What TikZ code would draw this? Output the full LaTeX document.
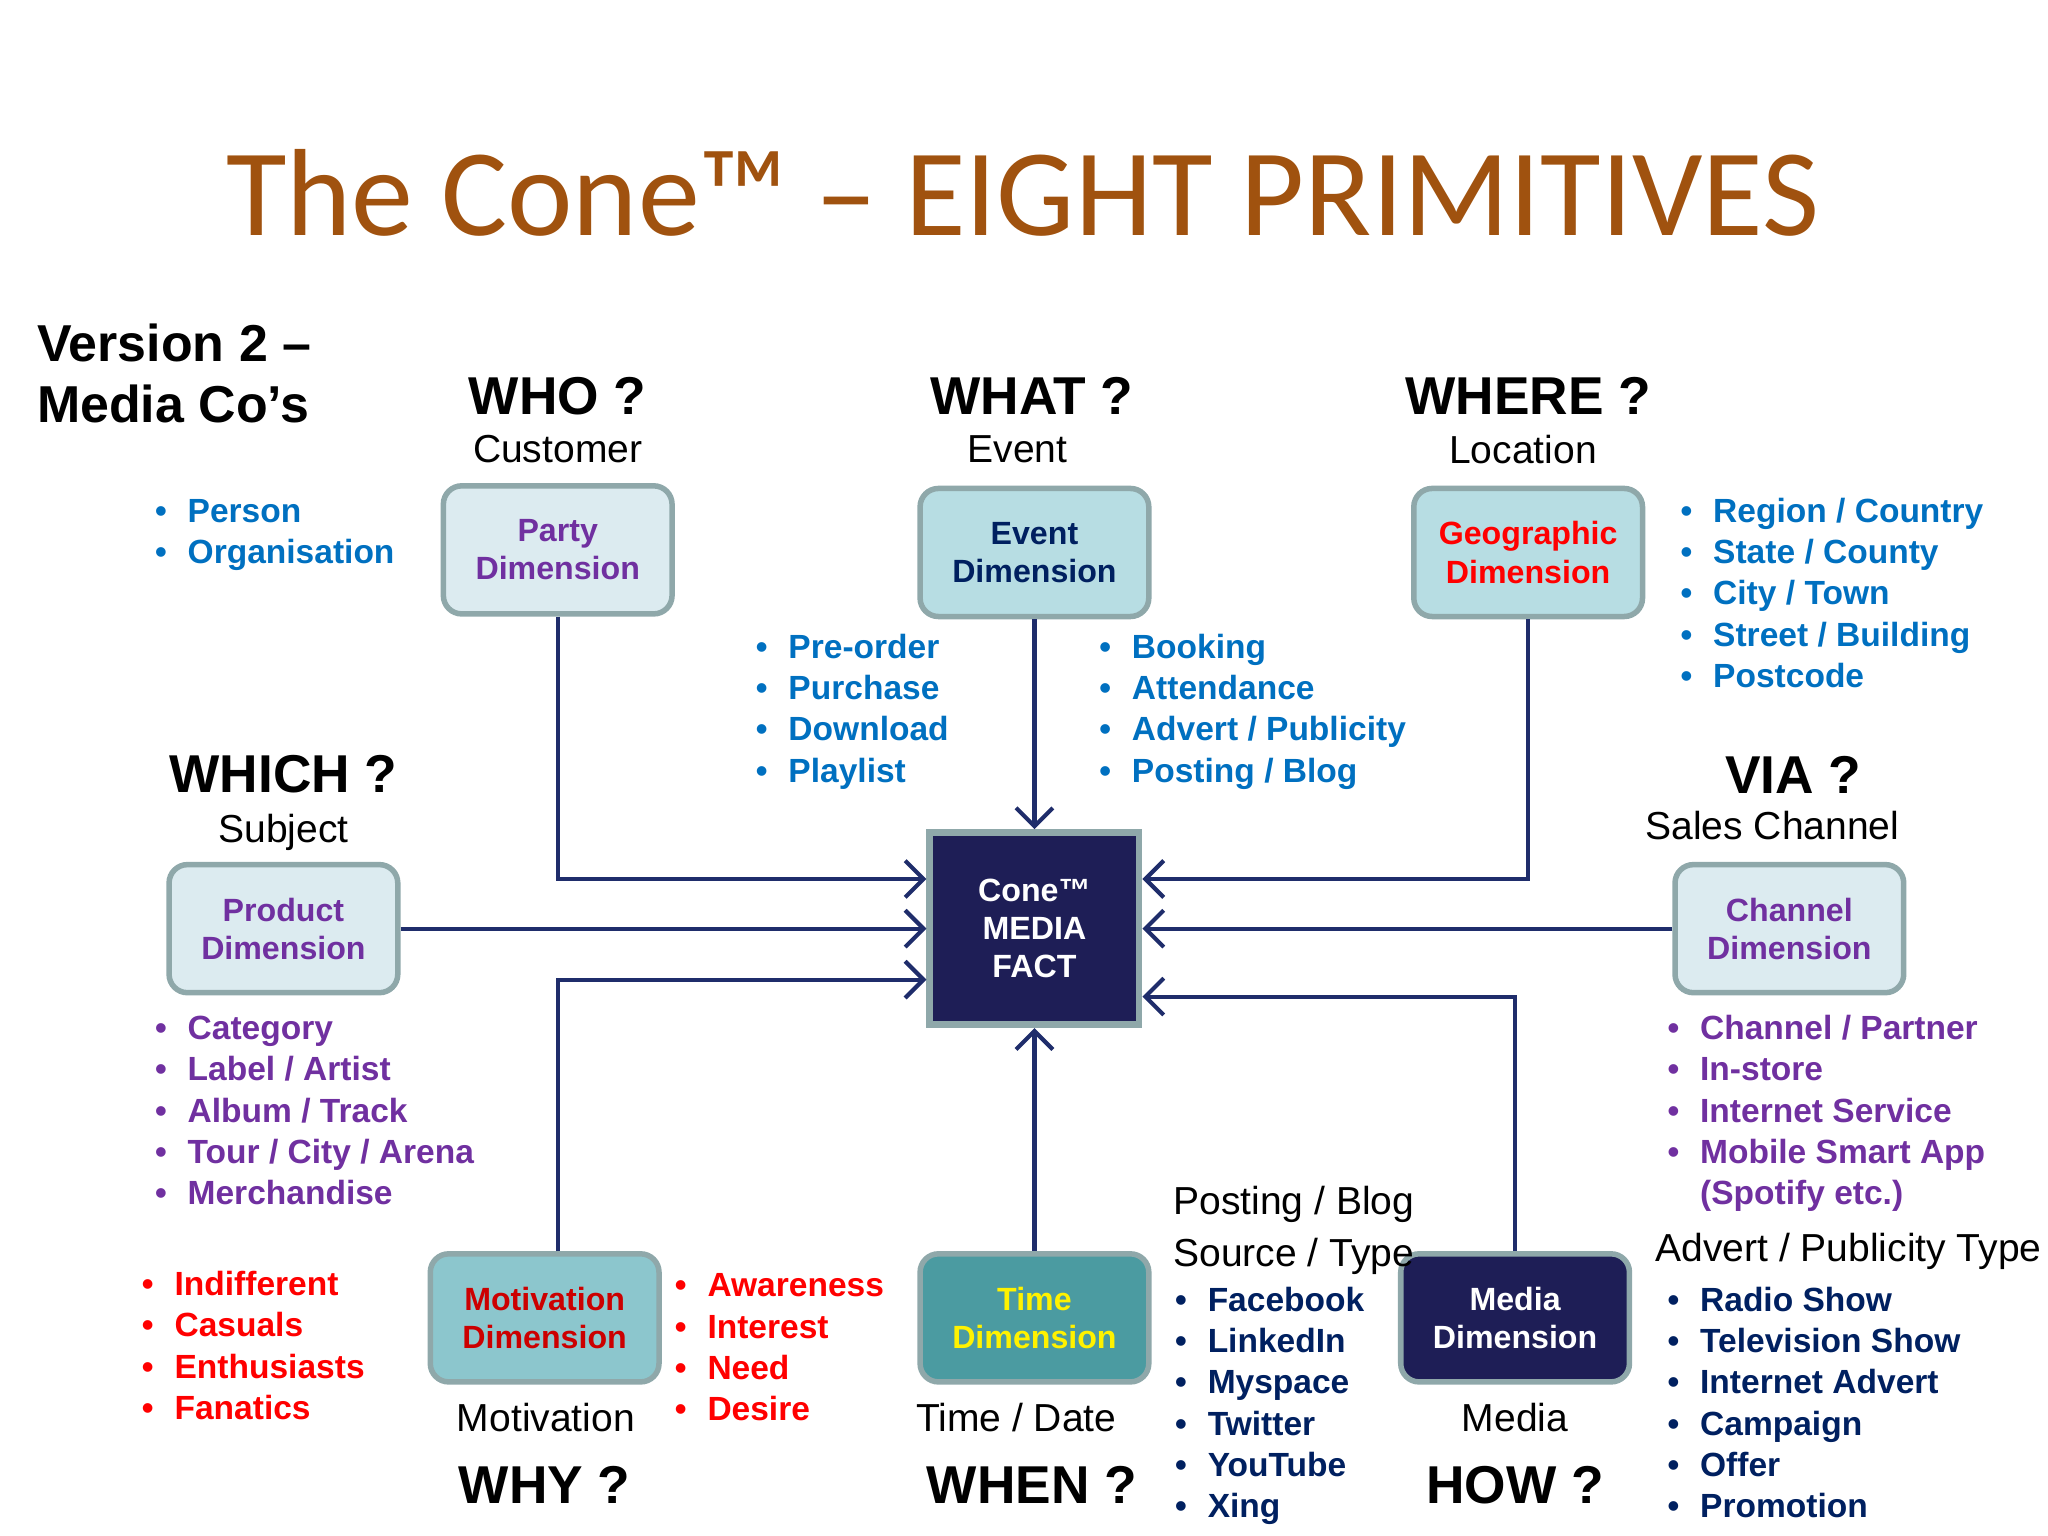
\documentclass[tikz,border=0pt]{standalone}
\usepackage{fontspec}
\setmainfont{Liberation Sans}
\newfontfamily\titlefont{Carlito}
\usetikzlibrary{arrows.meta}
\definecolor{titlebrown}{HTML}{A0520F}
\definecolor{listblue}{HTML}{0070C0}
\definecolor{listpurple}{HTML}{7030A0}
\definecolor{listred}{HTML}{FF0000}
\definecolor{navy}{HTML}{002060}
\definecolor{linknavy}{HTML}{1F2D6B}
\definecolor{boxrim}{HTML}{8FA8AA}
\definecolor{palefill}{HTML}{DCEBF0}
\definecolor{tealfill}{HTML}{B7DDE3}
\definecolor{midfill}{HTML}{8CC6CD}
\definecolor{deepfill}{HTML}{4B9BA1}
\definecolor{inkfill}{HTML}{1E1E56}
\newcommand{\bl}[1]{\fontsize{7.3}{9}\selectfont\bfseries\begin{tabular}{@{}l@{\hspace{0.16cm}}l@{}}#1\end{tabular}}
\tikzset{
  dim/.style={draw=boxrim, line width=1.2pt, rounded corners=4pt, minimum width=1.75cm,
    minimum height=0.98cm, align=center, font=\fontsize{7}{8.3}\selectfont\bfseries},
  link/.style={draw=linknavy, line width=0.9pt, -{Straight Barb[length=4pt,width=8pt]}},
  head/.style={font=\fontsize{11.6}{14}\selectfont\bfseries},
  sub/.style={font=\fontsize{8.5}{10.3}\selectfont},
  lst/.style={anchor=north west, inner sep=0pt}
}
\begin{document}
\begin{tikzpicture}[x=0.01cm, y=-0.01cm]
\useasboundingbox (0,0) rectangle (1568,1176);
% title
\node[font=\titlefont\fontsize{27}{32}\selectfont, text=titlebrown] (title) at (783,148) {The Cone™ – EIGHT PRIMITIVES};
\node[anchor=west, align=left, font=\fontsize{11.3}{13.2}\selectfont\bfseries] (version) at (16,286) {Version 2 –\\Media Co’s};
% fact and dimensions
\node[draw=boxrim, line width=1.5pt, fill=inkfill, text=white, minimum width=1.6cm, minimum height=1.47cm,
  align=center, font=\fontsize{7}{8.3}\selectfont\bfseries] (fact) at (792,711) {Cone™\\MEDIA\\FACT};
\node[dim, fill=palefill, text=listpurple] (party) at (427,421) {Party\\Dimension};
\node[dim, fill=tealfill, text=navy] (event) at (792,423) {Event\\Dimension};
\node[dim, fill=tealfill, text=listred] (geo) at (1170,423) {Geographic\\Dimension};
\node[dim, fill=palefill, text=listpurple] (product) at (217,711) {Product\\Dimension};
\node[dim, fill=palefill, text=listpurple] (channel) at (1370,711) {Channel\\Dimension};
\node[dim, fill=midfill, text=red!80!black] (motive) at (417,1009) {Motivation\\Dimension};
\node[dim, fill=deepfill, text=yellow] (time) at (792,1009) {Time\\Dimension};
\node[dim, fill=inkfill, text=white] (media) at (1160,1009) {Media\\Dimension};
% headings
\node[head] (who) at (427,303) {WHO ?};
\node[sub] (customer) at (427,344) {Customer};
\node[head] (what) at (790,303) {WHAT ?};
\node[sub] (eventlbl) at (779,344) {Event};
\node[head] (where) at (1170,303) {WHERE ?};
\node[sub] (location) at (1166,344) {Location};
\node[head] (which) at (217,593) {WHICH ?};
\node[sub] (subject) at (217,637) {Subject};
\node[head] (via) at (1373,593) {VIA ?};
\node[sub] (sales) at (1357,632) {Sales Channel};
\node[sub] (motlbl) at (418,1085) {Motivation};
\node[head] (why) at (417,1137) {WHY ?};
\node[sub] (timelbl) at (778,1085) {Time / Date};
\node[head] (when) at (790,1137) {WHEN ?};
\node[sub] (medialbl) at (1160,1085) {Media};
\node[head] (how) at (1160,1137) {HOW ?};
\node[sub, anchor=west, align=left] (source) at (886,942) {Posting / Blog\\[1pt]Source / Type};
\node[sub, anchor=west] (advert) at (1255,958) {Advert / Publicity Type};
% lists
\node[lst, text=listblue] (partylist) at (118,377) {\bl{•&Person\\•&Organisation}};
\node[lst, text=listblue] (eventleft) at (578,481) {\bl{•&Pre-order\\•&Purchase\\•&Download\\•&Playlist}};
\node[lst, text=listblue] (eventright) at (841,481) {\bl{•&Booking\\•&Attendance\\•&Advert / Publicity\\•&Posting / Blog}};
\node[lst, text=listblue] (geolist) at (1286,377) {\bl{•&Region / Country\\•&State / County\\•&City / Town\\•&Street / Building\\•&Postcode}};
\node[lst, text=listpurple] (productlist) at (118,773) {\bl{•&Category\\•&Label / Artist\\•&Album / Track\\•&Tour / City / Arena\\•&Merchandise}};
\node[lst, text=listpurple] (channellist) at (1276,773) {\bl{•&Channel / Partner\\•&In-store\\•&Internet Service\\•&Mobile Smart App\\&(Spotify etc.)}};
\node[lst, text=listred] (motleft) at (108,969) {\bl{•&Indifferent\\•&Casuals\\•&Enthusiasts\\•&Fanatics}};
\node[lst, text=listred] (motright) at (516,970) {\bl{•&Awareness\\•&Interest\\•&Need\\•&Desire}};
\node[lst, text=navy] (sourcelist) at (899,981) {\bl{•&Facebook\\•&LinkedIn\\•&Myspace\\•&Twitter\\•&YouTube\\•&Xing}};
\node[lst, text=navy] (advertlist) at (1276,981) {\bl{•&Radio Show\\•&Television Show\\•&Internet  Advert\\•&Campaign\\•&Offer\\•&Promotion}};
% connectors
\draw[link] (party.south) |- ([yshift=0.38cm]fact.west);
\draw[link] (event.south) -- (fact.north);
\draw[link] (geo.south) |- ([yshift=0.38cm]fact.east);
\draw[link] (product.east) -- (fact.west);
\draw[link] (channel.west) -- (fact.east);
\draw[link] ([xshift=0.1cm]motive.north) |- ([yshift=-0.39cm]fact.west);
\draw[link] (time.north) -- (fact.south);
\draw[link] (media.north) |- ([yshift=-0.52cm]fact.east);
\end{tikzpicture}
\end{document}
